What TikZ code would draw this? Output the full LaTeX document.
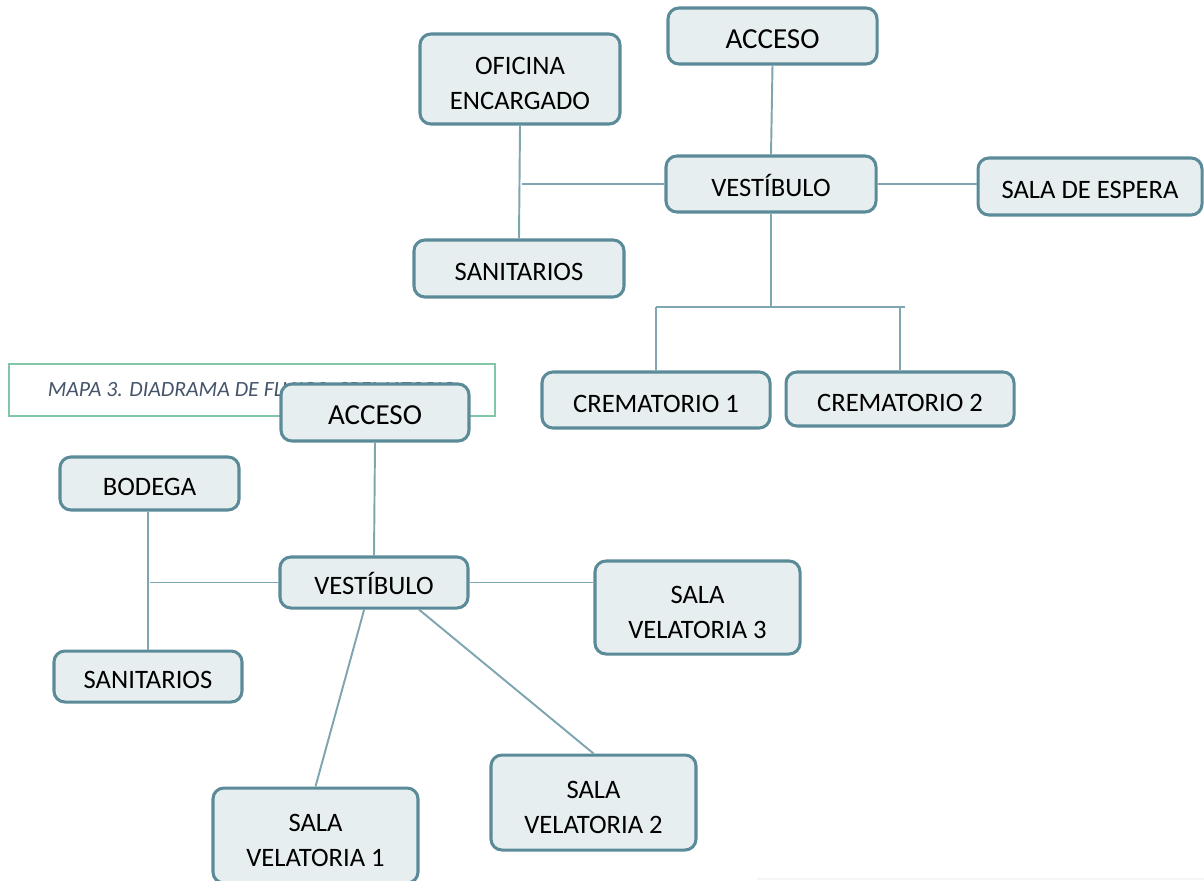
\documentclass[tikz,border=0pt]{standalone}
\usepackage{fontspec}
\setmainfont{Carlito}
\definecolor{boxline}{HTML}{5B8B99}
\definecolor{boxfill}{HTML}{E6EEF0}
\definecolor{linkline}{HTML}{7EA5B0}
\definecolor{capline}{HTML}{80C6A7}
\definecolor{captext}{HTML}{44546A}
\newcommand{\pxu}{0.4135pt}

\begin{document}
\begin{tikzpicture}[x=\pxu, y=-\pxu,
    room/.style 2 args={rectangle, draw=boxline, fill=boxfill, line width=1.25pt, rounded corners=4.5pt,
        minimum width=#1*\pxu, minimum height=#2*\pxu, inner sep=0pt, align=center,
        font=\fontsize{11}{14.5}\selectfont},
    oneline/.style={text height=10.3pt, text depth=0pt},
    twoline/.style={text height=25.3pt, text depth=0pt},
    big/.style={font=\fontsize{12}{14}\selectfont},
    link/.style={draw=linkline, line width=0.8pt}]
    \useasboundingbox (0,0) rectangle (1204,880);

    % crematorio
    \node[room={209}{56}, big, oneline] (a1) at (772.5,36) {ACCESO};
    \node[room={200}{90}, twoline] (of) at (520,79) {OFICINA\\ENCARGADO};
    \node[room={210}{56}, oneline] (vt) at (771,184) {VESTÍBULO};
    \node[room={224}{57}, oneline] (se) at (1090,186.5) {SALA DE ESPERA};
    \node[room={210}{57}, oneline] (st) at (519,268.5) {SANITARIOS};
    \node[room={228}{56}, oneline] (c1) at (656,400) {CREMATORIO 1};
    \node[room={228}{54}, oneline] (c2) at (900,399) {CREMATORIO 2};

    \coordinate (oj) at (522,182);
    \coordinate (barl) at (656,307);
    \coordinate (barr) at (905,307);

    \draw[link] (a1.south) -- (vt.north);
    \draw[link] (of.south) -- (st.north);
    \draw[link] (vt.west) -- (vt.west -| oj);
    \draw[link] (vt.east) -- (vt.east -| se.west);
    \draw[link] (vt.south) -- (vt.south |- barl);
    \draw[link] (barl) -- (barr);
    \draw[link] (c1.north) -- (barl);
    \draw[link] (c2.north) -- (c2.north |- barr);

    % caption
    \node[rectangle, draw=capline, line width=0.5pt, minimum width=486*\pxu, minimum height=52*\pxu,
        font=\fontsize{9}{11}\selectfont\itshape, text=captext] (cap) at (252,390)
        {MAPA 3. DIADRAMA DE FLUJOS. CREMATORIO};

    % velatorio
    \node[room={188}{57}, big, oneline] (a2) at (375,412.5) {ACCESO};
    \node[room={179}{53}, oneline] (bo) at (149.5,483.5) {BODEGA};
    \node[room={188}{51}, oneline] (vb) at (374,582.5) {VESTÍBULO};
    \node[room={205}{93}, twoline] (s3) at (697.5,607.5) {SALA\\VELATORIA 3};
    \node[room={188}{51}, oneline] (sb) at (148,676.5) {SANITARIOS};
    \node[room={205}{95}, twoline] (s2) at (593.5,802.5) {SALA\\VELATORIA 2};
    \node[room={205}{95}, twoline] (s1) at (315.5,835.5) {SALA\\VELATORIA 1};

    \coordinate (bj) at (150,580);

    \draw[link] (a2.south) -- (vb.north);
    \draw[link] (sb.north) -- (sb.north |- bo.south);
    \draw[link] (vb.west) -- (vb.west -| bj);
    \draw[link] (vb.east) -- (vb.east -| s3.west);
    \draw[link] (vb.250) -- (s1.north);
    \draw[link] (vb.-31) -- (s2.north);

    \draw[gray!8, line width=0.5pt] (757,879) -- (1204,879);
\end{tikzpicture}
\end{document}
